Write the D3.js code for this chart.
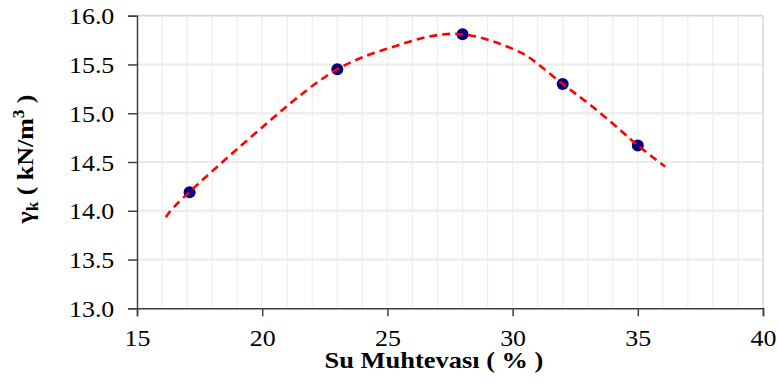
<!DOCTYPE html>
<html>
<head>
<meta charset="utf-8">
<script src="https://cdn.jsdelivr.net/npm/d3@7"></script>
<style>
  html, body { margin: 0; padding: 0; background: #fff; }
  svg { display: block; }
</style>
</head>
<body>
<svg id="chart" width="777" height="387"></svg>
<script>
// Measured points
const waterContent = [17.1, 23, 28, 32, 35];
const dryUnitWeight = [14.19, 15.45, 15.81, 15.30, 14.67];

// Trendline samples
const trendX = [16.15, 17.08, 20.27, 23.0, 25.34, 27.77, 30.0, 30.96, 32.0, 33.09, 34.29, 35.0, 36.09];
const trendY = [13.934, 14.19, 14.916, 15.45, 15.69, 15.813, 15.66, 15.515, 15.30, 15.087, 14.83, 14.67, 14.454];

const xTicks = [15, 20, 25, 30, 35, 40];
const yTicks = [13.0, 13.5, 14.0, 14.5, 15.0, 15.5, 16.0];
const xMinorTicks = d3.range(16, 40, 1);

const FONT = "Liberation Serif";
const SX = 1.08; // horizontal stretch of the reference text

const svg = d3.select("#chart");
const x = d3.scaleLinear().domain([15, 40]).range([137, 763]);
const y = d3.scaleLinear().domain([13, 16]).range([308.3, 15.7]);

// vertical minor gridlines
svg.append("g").selectAll("line").data(xMinorTicks).join("line")
  .attr("x1", d => x(d)).attr("x2", d => x(d))
  .attr("y1", y(16)).attr("y2", y(13))
  .attr("stroke", "#eeeeee").attr("stroke-width", 1.2);

// horizontal gridlines
svg.append("g").selectAll("line").data(yTicks.filter(d => d > 13 && d < 16)).join("line")
  .attr("x1", x(15)).attr("x2", x(40))
  .attr("y1", d => y(d)).attr("y2", d => y(d))
  .attr("stroke", "#ebebeb").attr("stroke-width", 2);

// plot border top & right
svg.append("line").attr("x1", x(15)).attr("x2", x(40)).attr("y1", y(16)).attr("y2", y(16))
  .attr("stroke", "#d6d6d6").attr("stroke-width", 1.8);
svg.append("line").attr("x1", x(40)).attr("x2", x(40)).attr("y1", y(16)).attr("y2", y(13))
  .attr("stroke", "#d6d6d6").attr("stroke-width", 1.5);

// axes
const yAxis = d3.axisLeft(y).tickValues(yTicks).tickFormat(d3.format(".1f")).tickSize(9).tickPadding(12);
const xAxis = d3.axisBottom(x).tickValues(xTicks).tickFormat(d3.format("d")).tickSize(8).tickPadding(15);

const gy = svg.append("g").attr("transform", `translate(${x(15)},0)`).call(yAxis);
const gx = svg.append("g").attr("transform", `translate(0,${y(13)})`).call(xAxis);
[gx, gy].forEach(g => {
  g.attr("font-family", FONT).attr("font-size", 24);
  g.select(".domain").attr("stroke", "#404040").attr("stroke-width", 1.5);
  g.selectAll(".tick line").attr("stroke", "#404040").attr("stroke-width", 1.5);
  g.selectAll(".tick text").attr("font-family", FONT).attr("font-size", 24).attr("fill", "#000")
    .attr("transform", `scale(${SX},1)`);
});
gy.selectAll(".tick text").attr("dy", "0.34em");
gx.selectAll(".tick text").attr("dy", "0.62em");

// data points
svg.append("g").selectAll("circle").data(waterContent).join("circle")
  .attr("cx", d => x(d)).attr("cy", (d, i) => y(dryUnitWeight[i]))
  .attr("r", 6).attr("fill", "#000080");

// trendline
const line = d3.line().x(d => x(d[0])).y(d => y(d[1])).curve(d3.curveNatural);
svg.append("path").datum(trendX.map((d, i) => [d, trendY[i]]))
  .attr("d", line).attr("fill", "none")
  .attr("stroke", "#ff0000").attr("stroke-width", 2.6).attr("stroke-dasharray", "8,5");

// axis titles
svg.append("text").attr("transform", `translate(434,368) scale(${SX * 1.02},1)`)
  .attr("text-anchor", "middle")
  .attr("font-family", FONT).attr("font-size", 24).attr("font-weight", "bold")
  .text("Su Muhtevası ( % )");

const yt = svg.append("text").attr("transform", `translate(33,159) rotate(-90) scale(${SX},1)`)
  .attr("text-anchor", "middle")
  .attr("font-family", FONT).attr("font-size", 24).attr("font-weight", "bold");
yt.append("tspan").text("γ");
yt.append("tspan").attr("font-size", 16).attr("dy", 5).text("k");
yt.append("tspan").attr("dy", -5).text(" ( kN/m");
yt.append("tspan").attr("font-size", 16).attr("dy", -9).text("3");
yt.append("tspan").attr("dy", 9).text(" )");
</script>
</body>
</html>
